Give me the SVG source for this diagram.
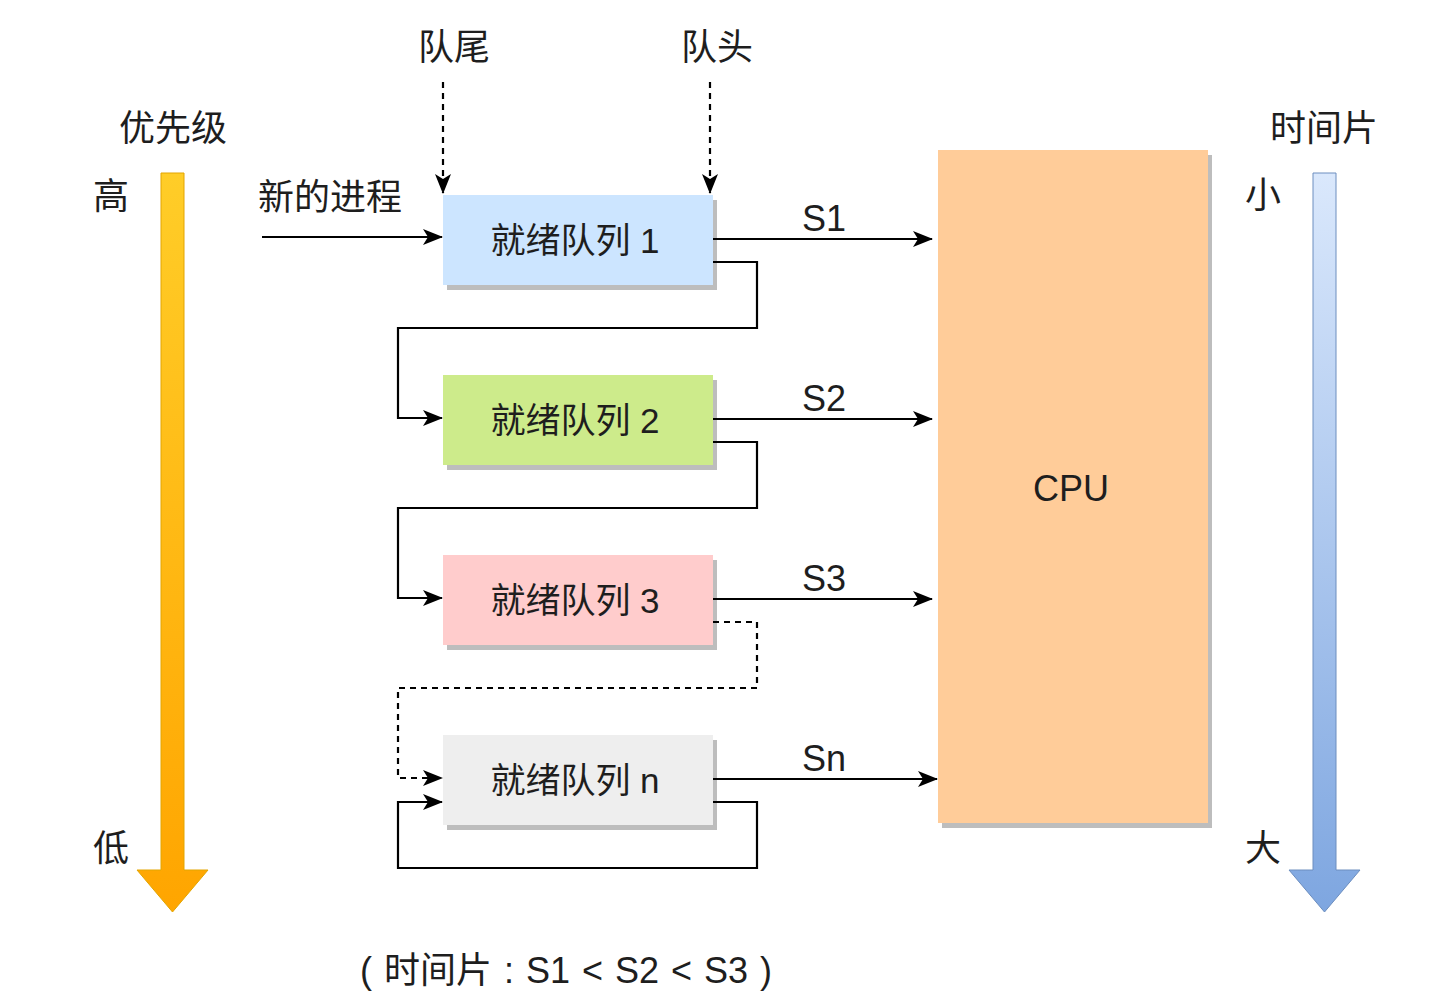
<svg xmlns="http://www.w3.org/2000/svg" width="1442" height="1004" viewBox="0 0 1442 1004">
<defs>
<style>
text{font-family:"Liberation Sans","Noto Sans CJK SC",sans-serif;font-size:36px;fill:#1e1e1e;text-anchor:middle;dominant-baseline:central}
text.q{font-size:35px}
text.note{word-spacing:2px}
.ln{fill:none;stroke:#000;stroke-width:2.2}
.dash{stroke-dasharray:6 5}
.shadow{fill:#bdbdbd}
</style>
<marker id="ah" viewBox="0 0 20 16" refX="19" refY="8" markerWidth="20" markerHeight="16" markerUnits="userSpaceOnUse" orient="auto">
<path d="M0,0 L20,8 L0,16 L5,8 z" fill="#000"/>
</marker>
<linearGradient id="gOrange" x1="0" y1="0" x2="0" y2="1">
<stop offset="0" stop-color="#FFCD28"/>
<stop offset="1" stop-color="#FFA500"/>
</linearGradient>
<linearGradient id="gBlue" x1="0" y1="0" x2="0" y2="1">
<stop offset="0" stop-color="#DAE8FC"/>
<stop offset="1" stop-color="#7EA6E0"/>
</linearGradient>
</defs>
<rect width="1442" height="1004" fill="#fff"/>

<g id="priority-arrow">
<polygon points="161,173 184,173 184,870 208,870 172.5,912 137,870 161,870" fill="url(#gOrange)" stroke="#E3A500" stroke-width="1"/>
</g>
<g id="timeslice-arrow">
<polygon points="1313,173 1336,173 1336,870 1360,870 1324.5,912 1289,870 1313,870" fill="url(#gBlue)" stroke="#6C8EBF" stroke-width="1"/>
</g>

<g id="labels">
<text x="173" y="128">优先级</text>
<text x="111" y="196">高</text>
<text x="111" y="848">低</text>
<text x="1324" y="128">时间片</text>
<text x="1263" y="195">小</text>
<text x="1263" y="848">大</text>
<text x="330" y="197">新的进程</text>
<text x="454" y="47">队尾</text>
<text x="717" y="47">队头</text>
<text x="824" y="218">S1</text>
<text x="824" y="398">S2</text>
<text x="824" y="578">S3</text>
<text x="824" y="758">Sn</text>
<text class="note" x="566" y="970">( 时间片 : S1 &lt; S2 &lt; S3 )</text>
</g>

<g id="queue1">
<rect class="shadow" x="447" y="200" width="270" height="90"/>
<rect x="443" y="195" width="270" height="90" fill="#CCE5FF"/>
<text class="q" x="575" y="240">就绪队列 1</text>
</g>
<g id="queue2">
<rect class="shadow" x="447" y="380" width="270" height="90"/>
<rect x="443" y="375" width="270" height="90" fill="#CDEB8B"/>
<text class="q" x="575" y="420">就绪队列 2</text>
</g>
<g id="queue3">
<rect class="shadow" x="447" y="560" width="270" height="90"/>
<rect x="443" y="555" width="270" height="90" fill="#FFCCCC"/>
<text class="q" x="575" y="600">就绪队列 3</text>
</g>
<g id="queuen">
<rect class="shadow" x="447" y="740" width="270" height="90"/>
<rect x="443" y="735" width="270" height="90" fill="#EEEEEE"/>
<text class="q" x="575" y="780">就绪队列 n</text>
</g>
<g id="cpu">
<rect class="shadow" x="942" y="155" width="270" height="673"/>
<rect x="938" y="150" width="270" height="673" fill="#FFCC99"/>
<text x="1071" y="488">CPU</text>
</g>

<g id="connectors">
<path class="ln" d="M262,237 H442" marker-end="url(#ah)"/>
<path class="ln dash" d="M443,82 V193" marker-end="url(#ah)"/>
<path class="ln dash" d="M710,82 V193" marker-end="url(#ah)"/>
<path class="ln" d="M713,239 H932" marker-end="url(#ah)"/>
<path class="ln" d="M713,419 H932" marker-end="url(#ah)"/>
<path class="ln" d="M713,599 H932" marker-end="url(#ah)"/>
<path class="ln" d="M713,779 H937" marker-end="url(#ah)"/>
<path class="ln" d="M713,262 H757 V328 H398 V418 H442" marker-end="url(#ah)"/>
<path class="ln" d="M713,442 H757 V508 H398 V598 H442" marker-end="url(#ah)"/>
<path class="ln dash" d="M713,622 H757 V688 H398 V778 H442" marker-end="url(#ah)"/>
<path class="ln" d="M713,802 H757 V868 H398 V802 H442" marker-end="url(#ah)"/>
</g>
</svg>
